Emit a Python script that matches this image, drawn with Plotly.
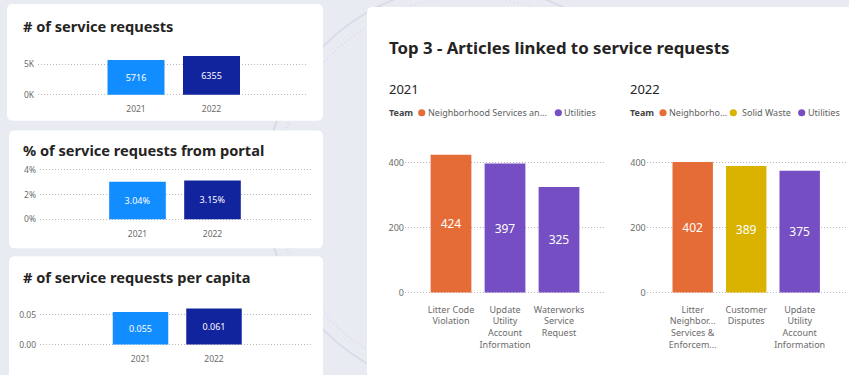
import plotly.graph_objects as go

W, H = 849, 375

# ---- KPI cards (left column) ----
years = ["2021", "2022"]
requests = [5716, 6355]
portal_pct = [3.04, 3.15]
per_capita = [0.055, 0.061]

# ---- Top 3 articles linked to service requests ----
articles_2021 = ["Litter Code<br>Violation",
                 "Update<br>Utility<br>Account<br>Information",
                 "Waterworks<br>Service<br>Request"]
counts_2021 = [424, 397, 325]
teams_2021 = ["Neighborhood Services and Enforcement", "Utilities", "Utilities"]

articles_2022 = ["Litter<br>Neighbor...<br>Services &<br>Enforcem...",
                 "Customer<br>Disputes",
                 "Update<br>Utility<br>Account<br>Information"]
counts_2022 = [402, 389, 375]
teams_2022 = ["Neighborhood Services and Enforcement", "Solid Waste", "Utilities"]

year_colors = {"2021": "#118DFF", "2022": "#12239E"}
team_colors = {"Neighborhood Services and Enforcement": "#E66C37",
               "Solid Waste": "#D9B300",
               "Utilities": "#744EC2"}

FONT = "Noto Sans, Open Sans, sans-serif"
BG = "#e9ebf3"
GRID = "#b9b9b9"
TICK = "#6b6b6b"


def px_x(x):
    return x / W


def px_y(y):
    return 1 - y / H


def rounded_rect(x0, y0, x1, y1, r=6):
    """SVG path (paper coords) for a rounded rectangle given in pixels."""
    rx, ry = r / W, r / H
    a, b, c, d = px_x(x0), px_y(y0), px_x(x1), px_y(y1)
    return (f"M{a+rx},{b} L{c-rx},{b} Q{c},{b} {c},{b-ry} "
            f"L{c},{d+ry} Q{c},{d} {c-rx},{d} L{a+rx},{d} Q{a},{d} {a},{d+ry} "
            f"L{a},{b-ry} Q{a},{b} {a+rx},{b} Z")


fig = go.Figure()

# background seal rings (mostly hidden behind the cards)
for r, dash in [(205, "solid"), (193, "1px,3px")]:
    cx, cy = 470, 190
    fig.add_shape(type="circle", xref="paper", yref="paper", layer="below",
                  x0=px_x(cx - r), x1=px_x(cx + r), y0=px_y(cy + r), y1=px_y(cy - r),
                  line=dict(color="#d9dce8", width=2, dash=dash))

# white cards
for box in [(7, 4, 323, 122), (9, 132, 323, 251), (9, 259, 323, 395), (367, 7, 870, 395)]:
    fig.add_shape(type="path", path=rounded_rect(*box), xref="paper", yref="paper",
                  layer="below", fillcolor="white", line=dict(width=0))


def axis_pair(n, gl, gr, c0, c1, base, top, ppu, tickvals, ticktext,
              tick_size, x_standoff, x_font_size, y_standoff=0):
    """Place a subplot: grid from gl..gr px, category centres c0/c1 px,
    value 0 at pixel row `base`, `ppu` pixels per data unit."""
    unit = c1 - c0
    xr = [-(c0 - gl) / unit, (gr - c0) / unit]
    pad = 2
    yr = [-pad / ppu, (base - top) / ppu]
    suffix = "" if n == 1 else str(n)
    fig.layout["xaxis" + suffix] = dict(
        domain=[px_x(gl), px_x(gr)], range=xr, anchor="y" + suffix,
        showgrid=False, zeroline=False, showline=False, ticks="",
        tickfont=dict(size=x_font_size, color=TICK, family=FONT),
        ticklabelstandoff=x_standoff, fixedrange=True)
    fig.layout["yaxis" + suffix] = dict(
        domain=[px_y(base + pad), px_y(top)], range=yr, anchor="x" + suffix,
        tickvals=tickvals, ticktext=ticktext, showgrid=True, gridcolor=GRID,
        griddash="1px,2px", gridwidth=1, zeroline=False, showline=False, ticks="",
        ticklabelstandoff=y_standoff,
        tickfont=dict(size=tick_size, color=TICK, family=FONT), fixedrange=True)


# KPI bar charts
kpis = [
    (requests, "%{y:d}", 1, (38, 308, 136, 211.5, 95.7, 50, 30.7 / 5000),
     [0, 5000], ["0K", "5K"]),
    (portal_pct, "%{y:.2f}%", 2, (40, 312, 137.5, 212.5, 221.7, 165, 25 / 2),
     [0, 2, 4], ["0%", "2%", "4%"]),
    (per_capita, "%{y:.3f}", 3, (40, 312, 140.5, 214, 348.3, 300, 30 / 0.05),
     [0, 0.05], ["0.00", "0.05"]),
]
for vals, tmpl, n, geo, tv, tt in kpis:
    axis_pair(n, *geo, tv, tt, tick_size=8.5, x_standoff=6, x_font_size=8.5,
              y_standoff=3)
    suffix = "" if n == 1 else str(n)
    fig.add_trace(go.Bar(
        x=years, y=vals, xaxis="x" + suffix, yaxis="y" + suffix,
        marker=dict(color=[year_colors[y] for y in years], line=dict(width=0)),
        texttemplate=tmpl, textposition="inside", insidetextanchor="middle",
        textangle=0, textfont=dict(size=9, color="white", family=FONT),
        hoverinfo="skip"))

# Top-3 article charts
tops = [
    (articles_2021, counts_2021, teams_2021, 4, (405, 605, 451, 505, 295.7, 145, 65.7 / 200)),
    (articles_2022, counts_2022, teams_2022, 5, (646.7, 846.6, 692.7, 746.2, 295.7, 145, 65.7 / 200)),
]
for cats, vals, teams, n, geo in tops:
    axis_pair(n, *geo, [0, 200, 400], ["0", "200", "400"],
              tick_size=9, x_standoff=8, x_font_size=9)
    fig.add_trace(go.Bar(
        x=cats, y=vals, xaxis="x" + str(n), yaxis="y" + str(n),
        marker=dict(color=[team_colors[t] for t in teams], line=dict(width=0)),
        texttemplate="%{y}", textposition="inside", insidetextanchor="middle",
        textangle=0, textfont=dict(size=12, color="white", family=FONT),
        hoverinfo="skip"))


def label(text, x, y, size, bold=False, color="#252423"):
    fig.add_annotation(text=f"<b>{text}</b>" if bold else text,
                       x=px_x(x), y=px_y(y), xref="paper", yref="paper",
                       xanchor="left", yanchor="middle", showarrow=False,
                       font=dict(size=size, color=color, family=FONT))


# card titles
label("# of service requests", 21, 26, 14.6, bold=True)
label("% of service requests from portal", 21, 152, 14.6, bold=True)
label("# of service requests per capita", 21, 280, 14.6, bold=True)
label("Top 3 - Articles linked to service requests", 387, 48, 16.8, bold=True)
label("2021", 387, 90, 13)
label("2022", 628, 90, 13)

# legends
legend_rows = [
    (388, [(421.7, 426.5, "Neighborhood Services an...", "Neighborhood Services and Enforcement"),
           (558.3, 562.5, "Utilities", "Utilities")]),
    (629, [(663, 668, "Neighborho...", "Neighborhood Services and Enforcement"),
           (733.3, 741, "Solid Waste", "Solid Waste"),
           (801.7, 806.5, "Utilities", "Utilities")]),
]
for x_team, items in legend_rows:
    label("Team", x_team - 1, 114, 9, bold=True, color="#444444")
    for dot_x, text_x, text, team in items:
        r = 3.6
        fig.add_shape(type="circle", xref="paper", yref="paper",
                      x0=px_x(dot_x - r), x1=px_x(dot_x + r),
                      y0=px_y(114 + r), y1=px_y(114 - r),
                      fillcolor=team_colors[team], line=dict(width=0))
        label(text, text_x - 1, 114, 9, color="#605e5c")

fig.update_layout(
    width=W, height=H, autosize=False,
    margin=dict(l=0, r=0, t=0, b=0),
    paper_bgcolor=BG, plot_bgcolor="rgba(0,0,0,0)",
    showlegend=False, bargap=0.245,
    font=dict(family=FONT),
)

fig.write_html("out.html", config={"displayModeBar": False})
